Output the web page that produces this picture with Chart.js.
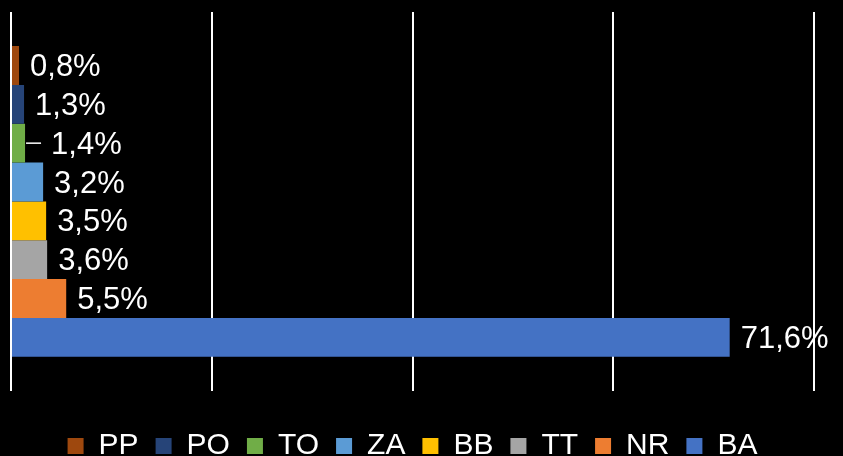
<!DOCTYPE html>
<html>
<head>
<meta charset="utf-8">
<script src="https://cdn.jsdelivr.net/npm/chart.js@4"></script>
<style>
  html, body { margin: 0; padding: 0; background: #000; }
  #wrap { width: 843px; height: 456px; }
</style>
</head>
<body>
<div id="wrap"><canvas id="chart"></canvas></div>
<script>
const seriesNames = ['PP', 'PO', 'TO', 'ZA', 'BB', 'TT', 'NR', 'BA'];
const seriesValues = [0.8, 1.3, 1.4, 3.2, 3.5, 3.6, 5.5, 71.6];
const seriesColors = ['#9E480E', '#264478', '#70AD47', '#5B9BD5', '#FFC000', '#A5A5A5', '#ED7D31', '#4472C4'];
const categories = [''];

// labels to the right of each bar, comma decimal
const barLabels = {
  id: 'barLabels',
  afterDatasetsDraw(chart) {
    const ctx = chart.ctx;
    ctx.save();
    ctx.font = '31px "Liberation Sans", Arial, sans-serif';
    ctx.fillStyle = '#fff';
    ctx.textBaseline = 'middle';
    chart.data.datasets.forEach((ds, i) => {
      const bar = chart.getDatasetMeta(i).data[0];
      const txt = ds.data[0].toFixed(1).replace('.', ',') + '%';
      let x = bar.x + 11;
      if (ds.label === 'TO') {
        // small leader line
        ctx.strokeStyle = '#fff';
        ctx.lineWidth = 1.5;
        ctx.beginPath();
        ctx.moveTo(bar.x + 1, bar.y);
        ctx.lineTo(bar.x + 16, bar.y);
        ctx.stroke();
        x = bar.x + 26;
      }
      ctx.fillText(txt, x, bar.y + 2);
    });
    ctx.restore();
  }
};

new Chart(document.getElementById('chart'), {
  type: 'bar',
  data: {
    labels: categories,
    datasets: seriesNames.map((name, i) => ({
      label: name,
      data: [seriesValues[i]],
      backgroundColor: seriesColors[i],
      borderWidth: 0
    }))
  },
  options: {
    indexAxis: 'y',
    responsive: true,
    maintainAspectRatio: false,
    animation: false,
    categoryPercentage: 0.82,
    barPercentage: 1,
    layout: { padding: { left: 11, right: 29, top: 12, bottom: -15 } },
    scales: {
      x: {
        min: 0,
        max: 80,
        ticks: { display: false, stepSize: 20 },
        grid: { color: '#fff', lineWidth: 2, drawTicks: false },
        border: { display: false }
      },
      y: { display: false }
    },
    plugins: {
      legend: {
        position: 'bottom',
        title: { display: true, text: ' ', font: { size: 1 }, padding: { top: 11, bottom: 11 } },
        labels: {
          color: '#fff',
          boxWidth: 16,
          boxHeight: 16,
          padding: 17,
          font: { size: 30, family: '"Liberation Sans", Arial, sans-serif' }
        }
      },
      tooltip: { enabled: false }
    }
  },
  plugins: [barLabels]
});
</script>
</body>
</html>
